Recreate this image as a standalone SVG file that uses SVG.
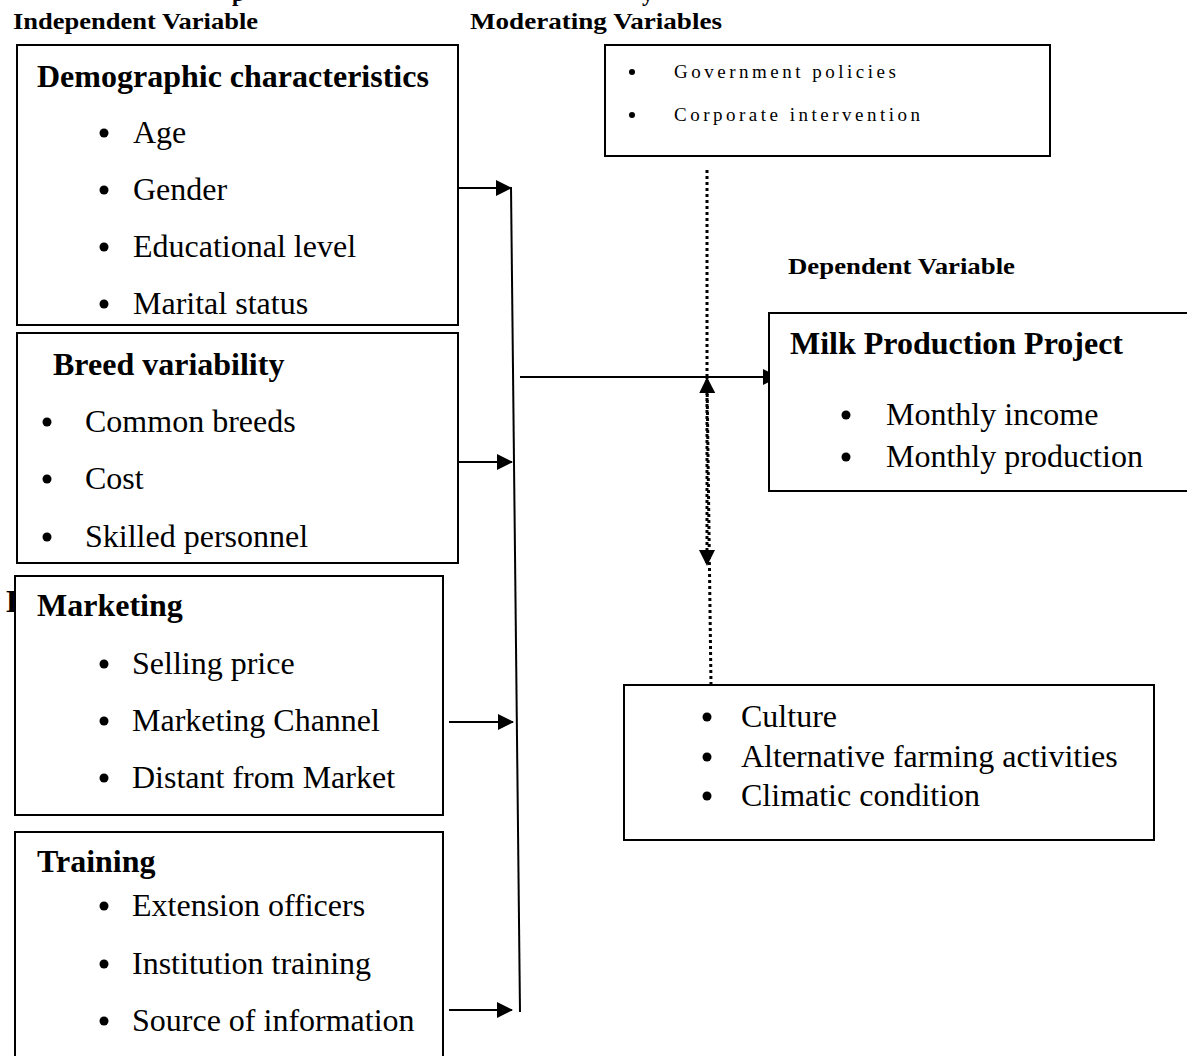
<svg xmlns="http://www.w3.org/2000/svg" width="1187" height="1056" viewBox="0 0 1187 1056">
<style>
text{font-family:"Liberation Serif","Times New Roman",serif;fill:#000}
.hd{font-size:23px;font-weight:bold}
.ti{font-size:32px;font-weight:bold}
.it{font-size:32px}
.sm{font-size:19px;letter-spacing:3.5px}
.box{fill:#fff;stroke:#000;stroke-width:2}
.ln{stroke:#000;stroke-width:2;fill:none}
.dot{stroke:#000;stroke-width:3;stroke-dasharray:3 3;fill:none}
.bul{fill:#000}
</style>
<defs>
<marker id="ah" markerUnits="userSpaceOnUse" markerWidth="16" markerHeight="16" refX="15" refY="8" orient="auto">
<path d="M0,0 L16,8 L0,16 Z" fill="#000"/>
</marker>
</defs>
<g id="headers">
<text class="hd" x="232" y="1">p</text>
<text class="hd" x="642" y="1">y</text>
<text class="hd" x="13" y="29" textLength="245" lengthAdjust="spacingAndGlyphs">Independent Variable</text>
<text class="hd" x="470" y="29" textLength="252" lengthAdjust="spacingAndGlyphs">Moderating Variables</text>
<text class="hd" x="788" y="274" textLength="227" lengthAdjust="spacingAndGlyphs">Dependent Variable</text>
<text class="ti" x="6" y="612">D</text>
</g>
<g id="connectors">
<line class="ln" x1="511" y1="187" x2="520" y2="1012"/>
<line class="ln" x1="458" y1="188" x2="511" y2="188" marker-end="url(#ah)"/>
<line class="ln" x1="458" y1="462" x2="512" y2="462" marker-end="url(#ah)"/>
<line class="ln" x1="449" y1="722" x2="513" y2="722" marker-end="url(#ah)"/>
<line class="ln" x1="449" y1="1010" x2="512" y2="1010" marker-end="url(#ah)"/>
<line class="ln" x1="520" y1="377" x2="778" y2="377" marker-end="url(#ah)"/>
<line class="dot" x1="707" y1="170" x2="707" y2="565" marker-end="url(#ah)"/>
<line class="dot" x1="711" y1="685" x2="707" y2="378" marker-end="url(#ah)"/>
</g>
<g id="node-demographic">
<rect class="box" x="17" y="45" width="441" height="280"/>
<text class="ti" x="37" y="87">Demographic characteristics</text>
<circle class="bul" cx="104" cy="133" r="4.5"/><text class="it" x="133" y="143">Age</text>
<circle class="bul" cx="104" cy="190" r="4.5"/><text class="it" x="133" y="200">Gender</text>
<circle class="bul" cx="104" cy="247" r="4.5"/><text class="it" x="133" y="257">Educational level</text>
<circle class="bul" cx="104" cy="304" r="4.5"/><text class="it" x="133" y="314">Marital status</text>
</g>
<g id="node-breed">
<rect class="box" x="17" y="333" width="441" height="230"/>
<text class="ti" x="53" y="375">Breed variability</text>
<circle class="bul" cx="47" cy="422" r="4.5"/><text class="it" x="85" y="432">Common breeds</text>
<circle class="bul" cx="47" cy="479" r="4.5"/><text class="it" x="85" y="489">Cost</text>
<circle class="bul" cx="47" cy="537" r="4.5"/><text class="it" x="85" y="547">Skilled personnel</text>
</g>
<g id="node-marketing">
<rect class="box" x="15" y="576" width="428" height="239"/>
<text class="ti" x="37" y="616">Marketing</text>
<circle class="bul" cx="104" cy="664" r="4.5"/><text class="it" x="132" y="674">Selling price</text>
<circle class="bul" cx="104" cy="721" r="4.5"/><text class="it" x="132" y="731">Marketing Channel</text>
<circle class="bul" cx="104" cy="778" r="4.5"/><text class="it" x="132" y="788">Distant from Market</text>
</g>
<g id="node-training">
<rect class="box" x="15" y="832" width="428" height="240"/>
<text class="ti" x="37" y="872">Training</text>
<circle class="bul" cx="104" cy="906" r="4.5"/><text class="it" x="132" y="916">Extension officers</text>
<circle class="bul" cx="104" cy="964" r="4.5"/><text class="it" x="132" y="974">Institution training</text>
<circle class="bul" cx="104" cy="1021" r="4.5"/><text class="it" x="132" y="1031">Source of information</text>
</g>
<g id="node-moderating">
<rect class="box" x="605" y="45" width="445" height="111"/>
<circle class="bul" cx="632" cy="72" r="3"/><text class="sm" x="674" y="78">Government policies</text>
<circle class="bul" cx="632" cy="115" r="3"/><text class="sm" x="674" y="121">Corporate intervention</text>
</g>
<g id="node-milk">
<rect class="box" x="769" y="313" width="440" height="178"/>
<text class="ti" x="790" y="354">Milk Production Project</text>
<circle class="bul" cx="846" cy="415" r="4.5"/><text class="it" x="886" y="425">Monthly income</text>
<circle class="bul" cx="846" cy="457" r="4.5"/><text class="it" x="886" y="467">Monthly production</text>
</g>
<g id="node-intervening">
<rect class="box" x="624" y="685" width="530" height="155"/>
<circle class="bul" cx="707" cy="717" r="4.5"/><text class="it" x="741" y="727">Culture</text>
<circle class="bul" cx="707" cy="757" r="4.5"/><text class="it" x="741" y="767">Alternative farming activities</text>
<circle class="bul" cx="707" cy="796" r="4.5"/><text class="it" x="741" y="806">Climatic condition</text>
</g>
</svg>
